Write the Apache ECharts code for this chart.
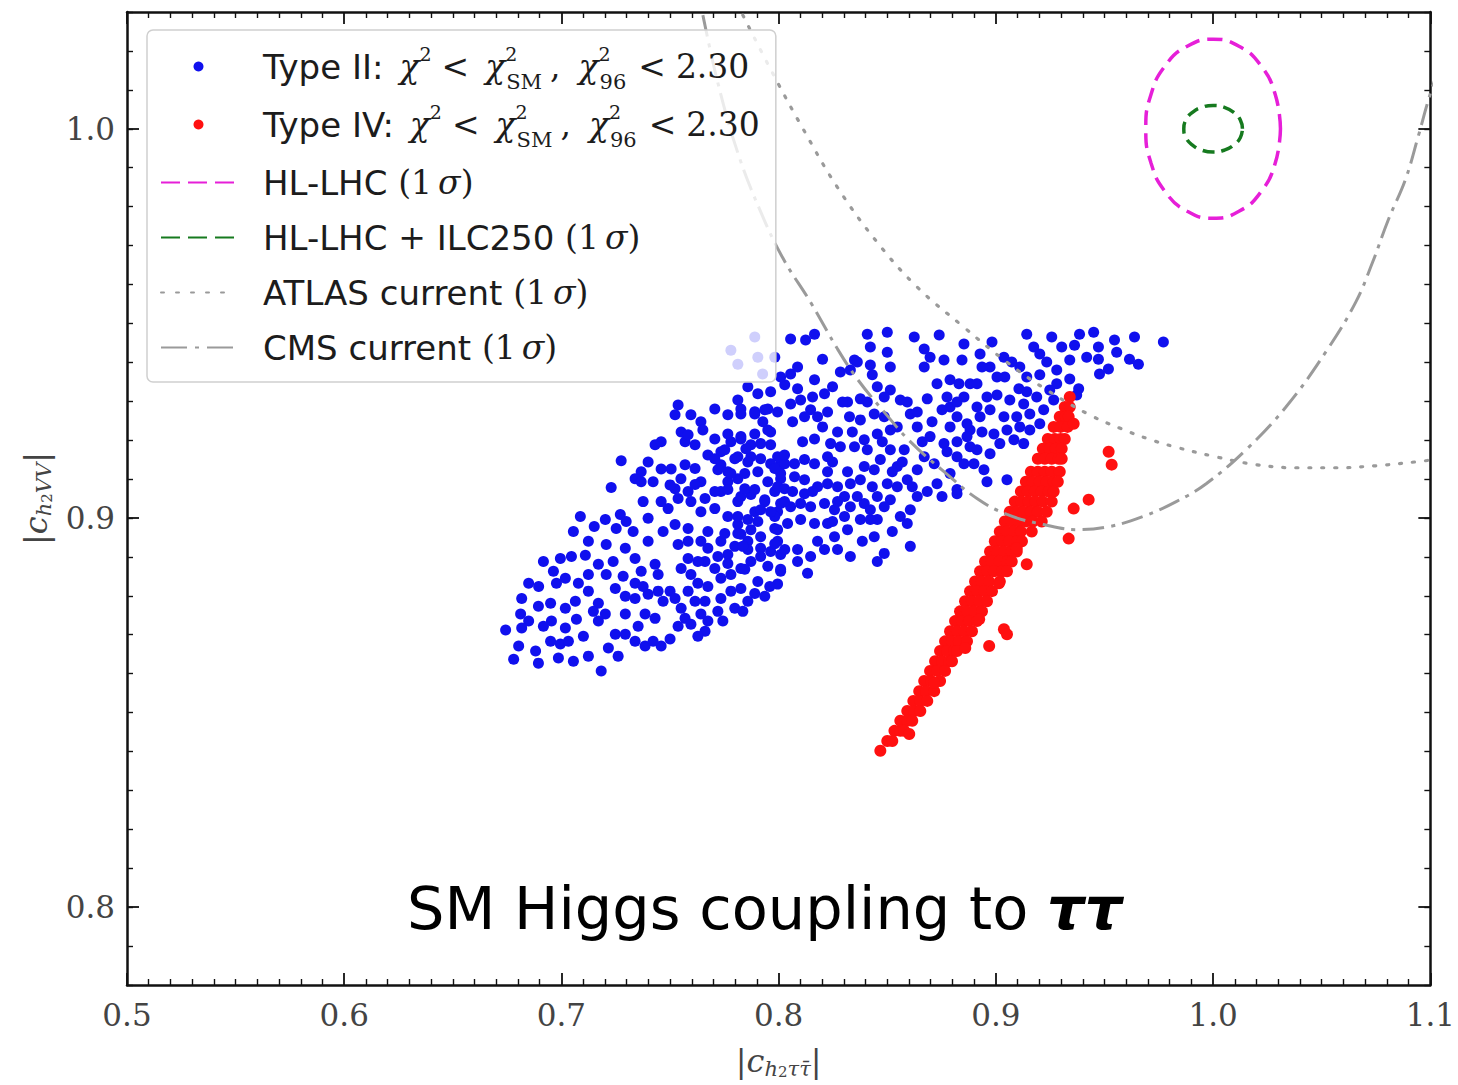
<!DOCTYPE html>
<html><head><meta charset="utf-8">
<script src="https://cdn.jsdelivr.net/npm/echarts@6/dist/echarts.min.js"></script>
<style>html,body{margin:0;padding:0;background:#fff}#c{width:1458px;height:1085px}</style>
</head><body><div id="c"></div>
<script>
// ---- data ----
const typeII = [
[0.7275,0.9147],[0.7229,0.9078],[0.7087,0.9004],[0.7151,0.8978],[0.7202,0.8996],[0.7271,0.9009],[0.7252,0.8973],[0.7298,0.8991],[0.7399,0.8999],[0.7206,0.8932],[0.7294,0.8922],[0.7339,0.8896],[0.7367,0.8863],[0.7431,0.8881],[0.7445,0.8855],[0.6995,0.8896],[0.7046,0.8901],[0.7110,0.8904],[0.7018,0.8845],[0.6977,0.8832],[0.7078,0.8832],[0.7124,0.8855],[0.7170,0.8881],[0.7206,0.8855],[0.7248,0.8819],[0.7294,0.8799],[0.6849,0.8832],[0.6895,0.8824],[0.6817,0.8793],[0.6950,0.8781],[0.7018,0.8768],[0.7064,0.8786],[0.7069,0.8740],[0.7170,0.8781],[0.7202,0.8753],[0.7170,0.8735],[0.6812,0.8753],[0.6849,0.8735],[0.6817,0.8717],[0.6743,0.8712],[0.6954,0.8735],[0.7018,0.8717],[0.6950,0.8683],[0.6995,0.8676],[0.6803,0.8671],[0.6780,0.8637],[0.6881,0.8658],[0.6986,0.8640],[0.7183,0.8607],[0.7216,0.8666],[0.7248,0.8701],[0.7294,0.8701],[0.7339,0.8683],[0.7385,0.8671],[0.7459,0.8671],[0.7500,0.8689],[0.7385,0.8753],[0.7294,0.8753],[0.7431,0.8742],[0.7468,0.8786],[0.7500,0.8812],[0.7523,0.8793],[0.7551,0.8768],[0.7569,0.8742],[0.7615,0.8786],[0.7661,0.8786],[0.7642,0.8753],[0.7674,0.8735],[0.7720,0.8760],[0.7734,0.8793],[0.7780,0.8812],[0.7826,0.8819],[0.7858,0.8786],[0.7890,0.8806],[0.7936,0.8799],[0.7798,0.8768],[0.7596,0.8727],[0.7661,0.8709],[0.7399,0.8804],[0.7339,0.8793],[0.7339,0.8832],[0.7551,0.8870],[0.7596,0.8855],[0.7628,0.8832],[0.7583,0.8896],[0.7661,0.8888],[0.7706,0.8870],[0.7734,0.8845],[0.7780,0.8855],[0.7826,0.8870],[0.7872,0.8888],[0.7766,0.8906],[0.7674,0.8922],[0.7642,0.8940],[0.7537,0.8932],[0.7583,0.8973],[0.7523,0.8983],[0.7491,0.9024],[0.7537,0.9050],[0.7596,0.9042],[0.7661,0.9050],[0.7642,0.9016],[0.7706,0.9024],[0.7734,0.9068],[0.7766,0.9093],[0.7812,0.9042],[0.7872,0.9060],[0.7890,0.9016],[0.7936,0.9042],[0.7982,0.9068],[0.7995,0.9016],[0.7812,0.8983],[0.7858,0.8940],[0.7917,0.8922],[0.7963,0.8914],[0.7995,0.8940],[0.7826,0.8958],[0.7734,0.8940],[0.7523,0.9075],[0.7500,0.9085],[0.7505,0.9126],[0.7459,0.9126],[0.7399,0.9144],[0.7367,0.9119],[0.7339,0.9101],[0.7367,0.9093],[0.7431,0.9188],[0.7459,0.9196],[0.7569,0.9137],[0.7569,0.9196],[0.7551,0.9221],[0.7615,0.9188],[0.7642,0.9247],[0.7596,0.9265],[0.7537,0.9290],[0.7706,0.9280],[0.7766,0.9265],[0.7826,0.9280],[0.7890,0.9273],[0.7950,0.9280],[0.7706,0.9203],[0.7734,0.9170],[0.7780,0.9196],[0.7826,0.9203],[0.7872,0.9188],[0.7917,0.9152],[0.7963,0.9221],[0.7963,0.9188],[0.7766,0.9119],[0.7812,0.9101],[0.7734,0.9137],[0.7642,0.9093],[0.7674,0.9162],[0.8009,0.9137],[0.8009,0.9101],[0.7982,0.8973],[0.8009,0.8906],[0.8009,0.8863],[0.7995,0.8830],
[0.8055,0.9460],[0.8124,0.9457],[0.8165,0.9472],[0.8202,0.9408],[0.8284,0.9375],[0.8349,0.9406],[0.8330,0.9380],[0.8408,0.9472],[0.8422,0.9439],[0.8500,0.9477],[0.8500,0.9426],[0.8514,0.9388],[0.8422,0.9393],[0.8431,0.9368],[0.8624,0.9465],[0.8670,0.9434],[0.8739,0.9470],[0.8670,0.9388],[0.8697,0.9413],[0.8761,0.9406],[0.8853,0.9447],[0.8844,0.9406],[0.8789,0.9355],[0.8729,0.9345],[0.8830,0.9345],[0.8881,0.9345],[0.8853,0.9311],[0.8775,0.9311],[0.8684,0.9306],[0.8789,0.9285],[0.8821,0.9260],[0.8789,0.9234],[0.8881,0.9226],[0.8881,0.9183],[0.8761,0.9191],[0.8697,0.9209],[0.8638,0.9234],[0.8606,0.9267],[0.8560,0.9303],[0.8514,0.9329],[0.8486,0.9311],[0.8454,0.9337],[0.8376,0.9306],[0.8317,0.9298],[0.8326,0.9260],[0.8376,0.9252],[0.8440,0.9267],[0.8486,0.9260],[0.8514,0.9226],[0.8454,0.9216],[0.8394,0.9201],[0.8349,0.9183],[0.8284,0.9183],[0.8239,0.9191],[0.8225,0.9157],[0.8165,0.9139],[0.8119,0.9150],[0.8073,0.9139],[0.8028,0.9139],[0.7995,0.9157],[0.7963,0.9139],[0.8165,0.9203],[0.8179,0.9260],[0.8147,0.9278],[0.8101,0.9303],[0.8055,0.9293],[0.8119,0.9260],[0.8087,0.9332],[0.8028,0.9342],[0.8055,0.9370],[0.8087,0.9388],[0.8165,0.9355],[0.8211,0.9319],[0.8009,0.9362],[0.7963,0.9324],[0.7904,0.9319],[0.7858,0.9337],[0.7812,0.9303],[0.7826,0.9267],[0.7890,0.9267],[0.7936,0.9278],[0.7950,0.9226],[0.7890,0.9216],[0.7826,0.9209],[0.7766,0.9216],[0.7752,0.9175],[0.7812,0.9157],[0.7872,0.9157],[0.7917,0.9191],[0.7720,0.9124],[0.7780,0.9114],[0.7766,0.9073],[0.7844,0.9114],[0.7890,0.9073],[0.7826,0.9055],[0.7936,0.9047],[0.7995,0.9080],[0.8009,0.9114],[0.8073,0.9106],[0.8119,0.9098],[0.8119,0.9062],[0.8179,0.9080],[0.8225,0.9088],[0.8271,0.9080],[0.8303,0.9055],[0.8330,0.9088],[0.8376,0.9098],[0.8394,0.9132],[0.8440,0.9124],[0.8468,0.9150],[0.8514,0.9175],[0.8546,0.9132],[0.8578,0.9175],[0.8592,0.9098],[0.8638,0.9124],[0.8670,0.9157],[0.8729,0.9088],[0.8716,0.9139],[0.8789,0.9114],[0.8821,0.9062],[0.8546,0.9080],[0.8500,0.9088],[0.8514,0.9047],[0.8454,0.9055],[0.8394,0.9037],[0.8330,0.9029],[0.8303,0.9004],[0.8257,0.9021],[0.8211,0.9037],[0.8147,0.9029],[0.8101,0.9037],[0.8055,0.9029],[0.8009,0.9037],[0.7982,0.9004],[0.7917,0.9021],[0.7858,0.8996],[0.7812,0.9004],[0.7766,0.9004],[0.7752,0.8960],[0.7812,0.8960],[0.7872,0.8970],[0.7917,0.8952],[0.7995,0.8970],[0.8041,0.8986],[0.8101,0.8996],[0.8165,0.8986],[0.8225,0.8986],[0.8257,0.8952],[0.8317,0.8970],[0.8376,0.8996],[0.8422,0.9021],[0.8454,0.8996],[0.8486,0.9029],[0.8560,0.9004],[0.8606,0.9021],[0.8638,0.9055],[0.8592,0.8986],[0.8440,0.8952],[0.8486,0.8909],[0.8330,0.8901],[0.8271,0.8919],[0.8211,0.8919],[0.8147,0.8901],[0.8087,0.8919],[0.8028,0.8919],[0.7982,0.8934],[0.7917,0.8901],[0.7858,0.8919],[0.7798,0.8927],[0.7766,0.8883],[0.7844,0.8868],[0.8009,0.8868],[0.8133,0.8858],[0.8606,0.8927],[0.8422,0.8996],
[0.8927,0.9421],[0.8982,0.9452],[0.9142,0.9472],[0.9174,0.9439],[0.9202,0.9421],[0.9037,0.9413],[0.8973,0.9388],[0.9041,0.9362],[0.9110,0.9388],[0.9142,0.9362],[0.8913,0.9345],[0.9005,0.9316],[0.9106,0.9332],[0.9202,0.9368],[0.9280,0.9380],[0.9340,0.9406],[0.9362,0.9444],[0.9385,0.9472],[0.9450,0.9477],[0.9472,0.9439],[0.9472,0.9408],[0.9518,0.9383],[0.9477,0.9370],[0.9546,0.9457],[0.9638,0.9465],[0.9615,0.9408],[0.9656,0.9395],[0.9771,0.9452],[0.9280,0.9345],[0.9340,0.9357],[0.9381,0.9332],[0.9372,0.9316],[0.9248,0.9329],[0.9188,0.9311],[0.9128,0.9293],[0.9064,0.9303],[0.8913,0.9285],[0.8973,0.9278],[0.8867,0.9242],[0.8927,0.9260],[0.9037,0.9260],[0.9096,0.9260],[0.9156,0.9267],[0.9220,0.9278],[0.9266,0.9303],[0.9051,0.9226],[0.9110,0.9234],[0.9156,0.9226],[0.9202,0.9242],[0.8867,0.9209],[0.8991,0.9216],[0.9018,0.9191],[0.9083,0.9201],[0.9128,0.9191],[0.8913,0.9175],[0.8973,0.9165],[0.8899,0.9139],[0.8945,0.9124],[0.8853,0.9139],[0.9051,0.9098],[0.8821,0.9073],
[0.7780,0.9431],[0.7812,0.9395],[0.7890,0.9465],[0.7904,0.9413],[0.7982,0.9413],[0.7926,0.9370],
[0.7523,0.9265],[0.7583,0.9214],[0.7651,0.9226],[0.7849,0.9178],[0.8027,0.9162],[0.7982,0.9127],[0.7904,0.9119],[0.7858,0.9144],[0.7798,0.9152],[0.7706,0.9152],[0.7615,0.9127],[0.7550,0.9101],[0.7459,0.9042],[0.7583,0.9068],[0.7615,0.9086],[0.7706,0.9068],[0.7844,0.9075],[0.7950,0.9093],[0.8027,0.9075],[0.8027,0.9042],[0.7963,0.9016],
[0.7422,0.9093],[0.7376,0.9042],[0.7330,0.8965],[0.7399,0.8940],[0.7468,0.8965],[0.7583,0.8940],[0.7674,0.8965],[0.7628,0.8888],[0.7720,0.8901],[0.7835,0.8927],[0.7904,0.8991],[0.7238,0.8888],[0.7284,0.8850],[0.7376,0.8824],[0.7445,0.8812],[0.7583,0.8812],[0.7674,0.8824],[0.7743,0.8735],[0.7835,0.8760],[0.7904,0.8837],[0.7950,0.8876],
[0.7124,0.8812],[0.7147,0.8760],[0.7101,0.8696],[0.7032,0.8683],[0.6917,0.8722],[0.6894,0.8773],[0.6963,0.8863],[0.6917,0.8888],[0.7124,0.8940],[0.7055,0.8965],[0.7353,0.8722],[0.7422,0.8683],[0.7537,0.8722],[0.7628,0.8696],[0.7261,0.8645],[0.7124,0.8645],[0.7055,0.8632],[0.6894,0.8627],
[0.8110,0.9196],[0.8202,0.9234],[0.8271,0.9221],[0.8339,0.9221],[0.8408,0.9175],[0.8477,0.9196],[0.8546,0.9234],[0.8592,0.9298],[0.8638,0.9272],[0.8706,0.9247],[0.8752,0.9278],[0.8821,0.9298],[0.8959,0.9311],[0.9005,0.9362],[0.8936,0.9388],[0.9073,0.9401],[0.9234,0.9401],[0.9303,0.9439],[0.9257,0.9465],[0.9418,0.9413],[0.9556,0.9426],
[0.8248,0.9144],[0.8317,0.9119],[0.8225,0.9119],[0.8156,0.9068],[0.8064,0.9068],[0.8271,0.9042],[0.8362,0.9055],[0.8431,0.9080],[0.8523,0.9119],[0.8615,0.9080],[0.8684,0.9068],[0.8752,0.9055],[0.8661,0.9196],[0.8775,0.9170],[0.8821,0.9196],[0.8569,0.9144],
[0.8179,0.8940],[0.8248,0.8991],[0.8385,0.8940],[0.8523,0.8965],[0.8454,0.8888],[0.8087,0.8888],[0.7959,0.8824],
[0.8362,0.9401],[0.8248,0.9337],[0.8294,0.9298],[0.8408,0.9298],[0.8225,0.9272],[0.8156,0.9311],[0.8064,0.9247],[0.7995,0.9272],[0.7927,0.9247],[0.9142,0.9324],[0.8936,0.9221],[0.8821,0.9157],[0.8959,0.9093]
];
const typeIV = [
[0.9340,0.9311],
[0.9317,0.9285],[0.9340,0.9285],
[0.9294,0.9260],[0.9321,0.9260],[0.9335,0.9260],
[0.9266,0.9234],[0.9298,0.9234],[0.9330,0.9234],
[0.9239,0.9203],[0.9271,0.9203],[0.9298,0.9203],[0.9317,0.9203],
[0.9216,0.9178],[0.9248,0.9178],[0.9275,0.9178],[0.9303,0.9178],
[0.9193,0.9152],[0.9225,0.9152],[0.9257,0.9152],[0.9289,0.9152],[0.9303,0.9152],
[0.9161,0.9119],[0.9193,0.9119],[0.9225,0.9119],[0.9257,0.9119],[0.9294,0.9119],
[0.9138,0.9093],[0.9170,0.9093],[0.9202,0.9093],[0.9234,0.9093],[0.9266,0.9093],[0.9285,0.9093],
[0.9115,0.9068],[0.9147,0.9068],[0.9179,0.9068],[0.9211,0.9068],[0.9243,0.9068],[0.9266,0.9068],
[0.9087,0.9042],[0.9119,0.9042],[0.9151,0.9042],[0.9183,0.9042],[0.9216,0.9042],[0.9257,0.9042],
[0.9064,0.9016],[0.9096,0.9016],[0.9128,0.9016],[0.9161,0.9016],[0.9193,0.9016],[0.9234,0.9016],
[0.9041,0.8991],[0.9073,0.8991],[0.9106,0.8991],[0.9138,0.8991],[0.9170,0.8991],[0.9211,0.8991],
[0.9018,0.8965],[0.9050,0.8965],[0.9083,0.8965],[0.9115,0.8965],[0.9165,0.8965],
[0.8995,0.8940],[0.9028,0.8940],[0.9060,0.8940],[0.9097,0.8940],[0.9120,0.8940],
[0.8973,0.8914],[0.9005,0.8914],[0.9037,0.8914],[0.9073,0.8914],[0.9096,0.8914],
[0.8950,0.8888],[0.8982,0.8888],[0.9014,0.8888],[0.9051,0.8888],[0.9073,0.8888],
[0.8927,0.8863],[0.8959,0.8863],[0.8991,0.8863],[0.9028,0.8863],[0.9051,0.8863],
[0.8904,0.8837],[0.8936,0.8837],[0.8968,0.8837],[0.9018,0.8837],
[0.8881,0.8812],[0.8913,0.8812],[0.8945,0.8812],[0.8982,0.8812],
[0.8858,0.8786],[0.8890,0.8786],[0.8922,0.8786],[0.8959,0.8786],
[0.8835,0.8760],[0.8867,0.8760],[0.8899,0.8760],[0.8936,0.8760],
[0.8812,0.8735],[0.8844,0.8735],[0.8876,0.8735],[0.8913,0.8735],
[0.8789,0.8709],[0.8821,0.8709],[0.8853,0.8709],[0.8890,0.8709],
[0.8766,0.8683],[0.8798,0.8683],[0.8830,0.8683],[0.8867,0.8683],
[0.8743,0.8658],[0.8775,0.8658],[0.8807,0.8658],[0.8821,0.8658],
[0.8720,0.8632],[0.8752,0.8632],[0.8784,0.8632],[0.8798,0.8632],
[0.8697,0.8607],[0.8729,0.8607],[0.8766,0.8607],
[0.8670,0.8581],[0.8702,0.8581],[0.8743,0.8581],
[0.8647,0.8555],[0.8679,0.8555],[0.8716,0.8555],
[0.8620,0.8530],[0.8652,0.8530],[0.8684,0.8530],
[0.8592,0.8504],[0.8624,0.8504],[0.8652,0.8504],
[0.8560,0.8479],[0.8592,0.8479],[0.8615,0.8479],
[0.8533,0.8453],[0.8560,0.8453],[0.8578,0.8453],
[0.8500,0.8427],[0.8523,0.8427],
[0.8468,0.8402],
[0.9358,0.9242],[0.9519,0.9170],[0.9533,0.9137],[0.9427,0.9047],[0.9358,0.9024],[0.9335,0.8947],[0.9142,0.8881],[0.9096,0.8922],[0.9014,0.8832],[0.9037,0.8714],[0.9051,0.8701],[0.8969,0.8671],[0.8923,0.8740],[0.8859,0.8666],[0.8716,0.8576],[0.8601,0.8445]
];
const hlLhc = [
[1.0310,1.0000],[1.0286,1.0088],[1.0219,1.0163],[1.0119,1.0212],[1.0000,1.0230],[0.9881,1.0212],[0.9781,1.0163],[0.9714,1.0088],
[0.9690,1.0000],[0.9714,0.9912],[0.9781,0.9837],[0.9881,0.9788],[1.0000,0.9770],[1.0119,0.9788],[1.0219,0.9837],[1.0286,0.9912],[1.0310,1.0000]
];
const hlLhcIlc = [
[1.0135,1.0000],[1.0125,1.0023],[1.0095,1.0042],[1.0052,1.0055],[1.0000,1.0060],[0.9948,1.0055],[0.9905,1.0042],[0.9875,1.0023],
[0.9865,1.0000],[0.9875,0.9977],[0.9905,0.9958],[0.9948,0.9945],[1.0000,0.9940],[1.0052,0.9945],[1.0095,0.9958],[1.0125,0.9977],[1.0135,1.0000]
];
const atlas = [
[0.7835,1.0292],[0.7972,1.0143],[0.8110,1.0002],[0.8271,0.9849],[0.8454,0.9708],[0.8638,0.9593],[0.8853,0.9490],[0.9051,0.9400],
[0.9234,0.9329],[0.9431,0.9265],[0.9578,0.9229],[0.9702,0.9203],[0.9821,0.9183],[1.0014,0.9157],[1.0197,0.9137],[1.0381,0.9129],
[1.0564,0.9129],[1.0748,0.9134],[1.0931,0.9144],[1.1046,0.9152]
];
const cms = [
[0.7651,1.0292],[0.7720,1.0118],[0.7812,0.9938],[0.7913,0.9792],[0.8018,0.9669],[0.8147,0.9554],[0.8271,0.9434],[0.8362,0.9357],
[0.8486,0.9272],[0.8606,0.9196],[0.8761,0.9119],[0.8913,0.9050],[0.9051,0.9009],[0.9220,0.8983],[0.9372,0.8970],[0.9523,0.8978],
[0.9679,0.9004],[0.9830,0.9042],[0.9968,0.9088],[1.0151,0.9175],[1.0335,0.9285],[1.0518,0.9426],[1.0656,0.9554],[1.0734,0.9657],
[1.0807,0.9767],[1.0885,0.9869],[1.0945,0.9982],[1.0991,1.0074],[1.1046,1.0169]
];
const yMajorTicks = [0.8, 0.9, 1.0];

// ---- text ----
const names = ['Type II', 'Type IV', 'HL-LHC (1σ)', 'HL-LHC + ILC250 (1σ)', 'ATLAS current (1σ)', 'CMS current (1σ)'];
const sig = '{r|(1}{g6|}{mi|σ}{r|)}';
const chi = '{g16|}{mi2|χ}{sup|2}{g10|}{r2|<}{g16|}{mi2|χ}{supk|2}{sub|SM}{g8|}{r2|,}{g18|}{mi2|χ}{supk|2}{sub|96}{g12|}{r2|<}{g10|}{r2|2.30}';
const legendText = {
  'Type II': '{sp|}{t2|Type II:}' + chi,
  'Type IV': '{sp|}{t2|Type IV:}' + chi,
  'HL-LHC (1σ)': '{sp|}{t|HL-LHC }' + sig,
  'HL-LHC + ILC250 (1σ)': '{sp|}{t|HL-LHC }{r|+}{t| ILC250 }' + sig,
  'ATLAS current (1σ)': '{sp|}{t|ATLAS current }' + sig,
  'CMS current (1σ)': '{sp|}{t|CMS current }' + sig
};
const txt = '#1c1c1c';
const legendRich = {
  sp: {width: 22, lineHeight: 10}, g6: {width: 6, lineHeight: 10}, g8: {width: 8, lineHeight: 10}, g10: {width: 10, lineHeight: 10},
  g12: {width: 12, lineHeight: 10}, g16: {width: 16, lineHeight: 10}, g18: {width: 18, lineHeight: 10},
  t: {fontFamily: 'DejaVu Sans', fontSize: 34, color: txt, lineHeight: 45},
  mi: {fontFamily: 'DejaVu Serif', fontStyle: 'italic', fontSize: 33, color: txt, lineHeight: 45},
  r: {fontFamily: 'DejaVu Serif', fontSize: 33, color: txt, lineHeight: 45},
  t2: {fontFamily: 'DejaVu Sans', fontSize: 34, color: txt, lineHeight: 40},
  mi2: {fontFamily: 'DejaVu Serif', fontStyle: 'italic', fontSize: 33, color: txt, lineHeight: 40},
  r2: {fontFamily: 'DejaVu Serif', fontSize: 33, color: txt, lineHeight: 40},
  sup: {fontFamily: 'DejaVu Serif', fontSize: 19, color: txt, lineHeight: 12, height: 14, verticalAlign: 'top'},
  supk: {fontFamily: 'DejaVu Serif', fontSize: 19, color: txt, lineHeight: 12, height: 14, verticalAlign: 'top', width: 1},
  sub: {fontFamily: 'DejaVu Serif', fontSize: 21, color: txt, lineHeight: 12, height: 10, verticalAlign: 'bottom'}
};
const nameRich = {
  r: {fontFamily: 'DejaVu Serif', fontSize: 32, color: '#444', lineHeight: 36},
  i: {fontFamily: 'DejaVu Serif', fontStyle: 'italic', fontSize: 32, color: '#444', lineHeight: 36},
  s: {fontFamily: 'DejaVu Serif', fontStyle: 'italic', fontSize: 21, color: '#444', lineHeight: 14, height: 20, verticalAlign: 'bottom'},
  ss: {fontFamily: 'DejaVu Serif', fontSize: 15, color: '#444', lineHeight: 8, height: 14, verticalAlign: 'bottom'}
};

const axisLine = {show: true, onZero: false, lineStyle: {color: '#111', width: 2.5}};
const majorTick = {show: true, inside: true, length: 12, lineStyle: {color: '#111', width: 1.8}};
const minorTick = {show: true, inside: true, length: 6, lineStyle: {color: '#111', width: 1.4}};
const tickLabel = {fontFamily: 'DejaVu Serif', fontSize: 31, color: '#444'};
const noSym = {opacity: 0};

const chart = echarts.init(document.getElementById('c'), null, {renderer: 'svg'});
chart.setOption({
  animation: false,
  backgroundColor: '#fff',
  grid: {left: 127, right: 23, top: 12, bottom: 100, containLabel: false},
  xAxis: [
    {type: 'value', position: 'bottom', min: 0.5, max: 1.1, interval: 0.1,
     axisLine: axisLine, axisTick: majorTick,
     minorTick: {show: true, splitNumber: 10, length: 6, lineStyle: {color: '#111', width: 1.4}},
     splitLine: {show: false}, minorSplitLine: {show: false},
     axisLabel: Object.assign({margin: 14, formatter: v => v.toFixed(1)}, tickLabel),
     name: '{r||}{i|c}{s|h}{ss|2}{s|ττ̄}{r||}', nameLocation: 'middle', nameGap: 58,
     nameTextStyle: {rich: nameRich}},
    {type: 'value', position: 'top', min: 0.5, max: 1.1, interval: 0.1,
     axisLine: axisLine, axisTick: majorTick,
     minorTick: {show: true, splitNumber: 10, length: 6, lineStyle: {color: '#111', width: 1.4}},
     splitLine: {show: false}, minorSplitLine: {show: false}, axisLabel: {show: false}}
  ],
  yAxis: [
    {type: 'value', position: 'left', min: 0.78, max: 1.03,
     axisLine: axisLine,
     axisTick: Object.assign({customValues: yMajorTicks}, majorTick),
     splitLine: {show: false},
     axisLabel: Object.assign({customValues: yMajorTicks, margin: 12, formatter: v => v.toFixed(1)}, tickLabel),
     name: '{r||}{i|c}{s|h}{ss|2}{s|VV}{r||}', nameLocation: 'middle', nameGap: 72, nameRotate: 90,
     nameTextStyle: {rich: nameRich}},
    {type: 'value', position: 'left', min: 0.78, max: 1.03, interval: 0.01,
     axisLine: {show: false}, axisTick: minorTick, splitLine: {show: false}, axisLabel: {show: false}},
    {type: 'value', position: 'right', min: 0.78, max: 1.03,
     axisLine: axisLine, axisTick: Object.assign({customValues: yMajorTicks}, majorTick),
     splitLine: {show: false}, axisLabel: {show: false}},
    {type: 'value', position: 'right', min: 0.78, max: 1.03, interval: 0.01,
     axisLine: {show: false}, axisTick: minorTick, splitLine: {show: false}, axisLabel: {show: false}}
  ],
  legend: {
    orient: 'vertical', left: 147, top: 30,
    itemWidth: 75, itemHeight: 10, itemGap: 10,
    padding: [14, 16, 12, 13],
    backgroundColor: 'rgba(255,255,255,0.8)', borderColor: '#cfcfcf', borderWidth: 1.5, borderRadius: 6,
    data: [
      {name: names[0]},
      {name: names[1]},
      {name: names[2], itemStyle: noSym, lineStyle: {type: [19, 8]}},
      {name: names[3], itemStyle: noSym, lineStyle: {type: [19, 8]}},
      {name: names[4], itemStyle: noSym, lineStyle: {type: [3, 12]}},
      {name: names[5], itemStyle: noSym, lineStyle: {type: [26, 8, 4, 8]}}
    ],
    formatter: n => legendText[n],
    textStyle: {rich: legendRich, lineHeight: 40},
    selectedMode: false
  },
  graphic: [{
    type: 'text', left: 407, top: 879, z: 100,
    style: {
      text: '{a|SM Higgs coupling to }{b|ττ}',
      rich: {
        a: {fontFamily: 'DejaVu Sans', fontSize: 59, fill: '#000', color: '#000'},
        b: {fontFamily: 'DejaVu Sans', fontSize: 59, fontWeight: 'bold', fontStyle: 'italic', fill: '#000', color: '#000'}
      }
    }
  }],
  series: [
    {name: names[0], type: 'scatter', data: typeII, symbolSize: 11, itemStyle: {color: '#1010ee', opacity: 1}, z: 2},
    {name: names[1], type: 'scatter', data: typeIV, symbolSize: 12, itemStyle: {color: '#ff1010', opacity: 1}, z: 2},
    {name: names[2], type: 'line', data: hlLhc, smooth: 0.5, symbol: 'none', showSymbol: false,
     lineStyle: {color: '#e61fd8', width: 3.5, type: [15, 8]}, itemStyle: {color: '#e61fd8'}, z: 3},
    {name: names[3], type: 'line', data: hlLhcIlc, smooth: 0.5, symbol: 'none', showSymbol: false,
     lineStyle: {color: '#167a1f', width: 3.5, type: [12, 7]}, itemStyle: {color: '#167a1f'}, z: 3},
    {name: names[4], type: 'line', data: atlas, smooth: 0.4, symbol: 'none', showSymbol: false,
     lineStyle: {color: '#9a9a9a', width: 3.2, type: [2, 11], cap: 'round'}, itemStyle: {color: '#9a9a9a'}, z: 3},
    {name: names[5], type: 'line', data: cms, smooth: 0.4, symbol: 'none', showSymbol: false,
     lineStyle: {color: '#9a9a9a', width: 3, type: [22, 7, 4, 7]}, itemStyle: {color: '#9a9a9a'}, z: 3}
  ]
});
</script>
</body></html>
